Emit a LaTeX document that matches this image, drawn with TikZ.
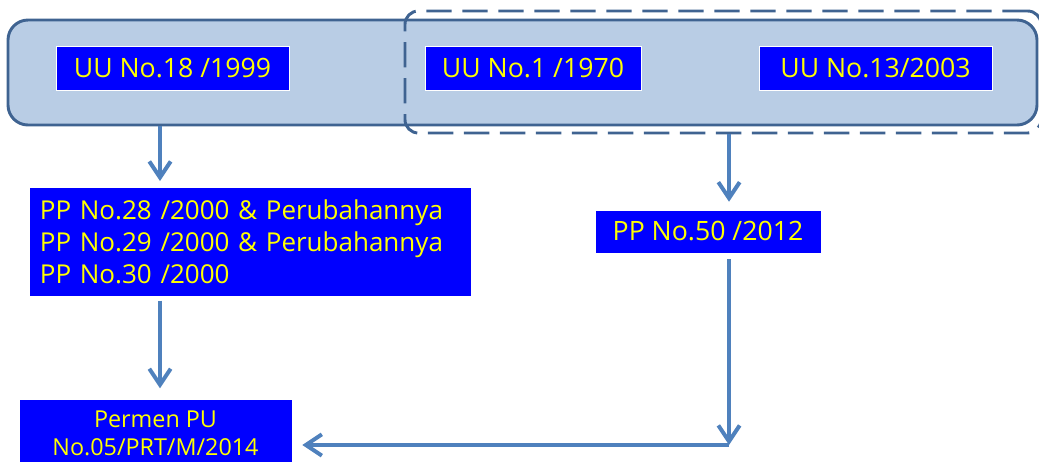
\documentclass[tikz,border=0pt]{standalone}
\usepackage{fontspec}
\setmainfont{Open Sans}
\usetikzlibrary{positioning,arrows.meta}
\definecolor{barfill}{RGB}{185,205,229}
\definecolor{bardraw}{RGB}{63,99,145}
\definecolor{flow}{RGB}{79,129,189}
\definecolor{lawblue}{RGB}{0,0,255}
\definecolor{lawtext}{RGB}{255,255,0}

\begin{document}
\begin{tikzpicture}[
  x=0.75pt, y=-0.75pt,
  law/.style={draw=white, thin, fill=lawblue, text=lawtext, inner sep=0pt,
              minimum height=33pt, font=\fontsize{20}{23}\selectfont},
  bar/.style={draw=bardraw, line width=2.2pt, fill=barfill, rounded corners=15pt},
  grp/.style={draw=bardraw, line width=2.2pt, dash pattern=on 19pt off 8pt,
              rounded corners=10pt},
  arr/.style={-{Straight Barb[length=12pt, width=16pt, line width=3pt]},
              draw=flow, line width=3.5pt}
]
\useasboundingbox (0,0) rectangle (1039,461);

% top band with the laws
\node[bar, minimum width=771.75pt, minimum height=78.75pt] (uubar) at (522.5,72.5) {};
\node[grp, minimum width=477pt, minimum height=91.5pt] (uugrp) at (723,72) {};
\node[law, minimum width=174.75pt] (uu18) at (172.5,68) {UU No.18 /1999};
\node[law, minimum width=162pt]    (uu1)  at (533,68)   {UU No.1 /1970};
\node[law, minimum width=174.75pt] (uu13) at (875.5,68) {UU No.13/2003};

% implementing regulations
\node[law, minimum width=331.5pt, minimum height=81.75pt, align=left,
      anchor=north west, inner xsep=8pt, text width=315.5pt,
      font=\fontsize{19.5}{24}\selectfont] (pplist) at (29,187)
  {PP No.28 /2000 \& Perubahannya\\
   PP No.29 /2000 \& Perubahannya\\
   PP No.30 /2000};
\node[law, minimum width=169.5pt, minimum height=32.25pt] (pp50) at (708,231.5) {PP No.50 /2012};
\node[law, minimum width=204.75pt, minimum height=51pt, align=center, anchor=north,
      font=\fontsize{17.5}{21}\selectfont] (permen) at (155.5,399)
  {Permen PU\\No.05/PRT/M/2014};

\coordinate (turn) at (729,445);
\coordinate (left) at (160,0);

\draw[arr, shorten >=4.5pt] (uubar.south -| left) -- (pplist.north -| left);
\draw[arr, shorten >=6pt] (uugrp.south -| turn) -- (pp50.north -| turn);
\draw[arr, shorten >=8pt, shorten <=3pt] (pplist.south -| left) -- (permen.north -| left);
\draw[arr, shorten <=4.5pt] (pp50.south -| turn) -- (turn);
\draw[arr, shorten >=7.5pt] (turn) -- (permen.east |- turn);

\end{tikzpicture}
\end{document}
